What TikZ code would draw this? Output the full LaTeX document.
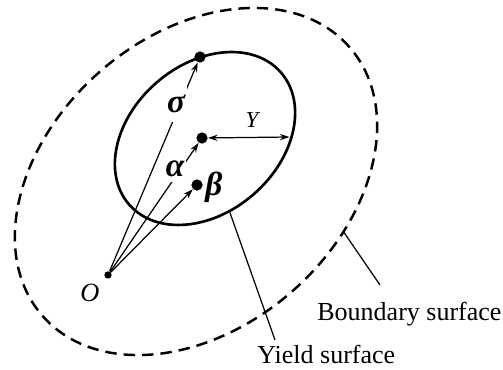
\documentclass[tikz,border=0pt]{standalone}
\usepackage{fontspec}
\setmainfont{Liberation Serif}
\usetikzlibrary{arrows.meta}

\begin{document}
\begin{tikzpicture}[
        x=0.02cm, y=0.02cm,
        >={Stealth[length=5.5pt,width=3.6pt,inset=1.8pt]},
        dotnode/.style={circle, fill=black, inner sep=0pt, minimum size=6.4pt},
        greeknode/.style={fill=white, inner xsep=1pt, font=\fontsize{19}{22}\selectfont\bfseries\itshape},
        textnode/.style={inner sep=0pt, font=\fontsize{14.8}{17}\selectfont},
        yieldline/.style={line width=1.5pt},
        boundline/.style={line width=1.4pt, dash pattern=on 6.5pt off 4pt},
        thinline/.style={line width=0.7pt}
    ]

    \useasboundingbox (0,0) rectangle (503,369);

    % surfaces
    \coordinate (BoundC) at (196,187.5);
    \coordinate (YieldC) at (205,230.5);
    \draw [boundline, rotate around={41.2:(BoundC)}] (BoundC) ellipse [x radius=204, y radius=146];
    \draw [yieldline, rotate around={41:(YieldC)}] (YieldC) ellipse [x radius=100.6, y radius=74];

    % points
    \node [dotnode, minimum size=4.2pt] (Origin) at (108,94) {};
    \node [dotnode] (Sigma) at (200,312) {};
    \node [dotnode] (Alpha) at (202,231) {};
    \node [dotnode] (Beta) at (197,184) {};
    \coordinate (YieldEdge) at (289.5,232);

    % vectors
    \draw [->, thinline] (Origin) -- (Sigma);
    \draw [->, thinline] (Origin) -- (Alpha);
    \draw [->, thinline] (Origin) -- (Beta);
    \draw [<->, thinline] (Alpha) -- (YieldEdge);

    % labels
    \node [greeknode, inner ysep=5pt] (SigmaLabel) at (176,265) {σ};
    \node [greeknode, inner ysep=3pt] (AlphaLabel) at (175,200) {α};
    \node [greeknode, fill=none, inner sep=0pt, anchor=west] (BetaLabel) at (205,182) {β};
    \node [font=\fontsize{15}{17}\selectfont\itshape] (OLabel) at (90,76) {O};
    \node [font=\fontsize{13}{15}\selectfont\itshape] (YLabel) at (252,249) {Y};

    % leaders
    \node [textnode, anchor=base west] (BoundText) at (317,49) {Boundary surface};
    \node [textnode, anchor=base west] (YieldText) at (257,6) {Yield surface};
    \coordinate (BoundFoot) at (343,138);
    \coordinate (BoundTip) at (380,84);
    \coordinate (YieldFoot) at (229,159);
    \coordinate (YieldTip) at (275,29);
    \draw [thinline] (BoundFoot) -- (BoundTip);
    \draw [thinline] (YieldFoot) -- (YieldTip);

\end{tikzpicture}
\end{document}
